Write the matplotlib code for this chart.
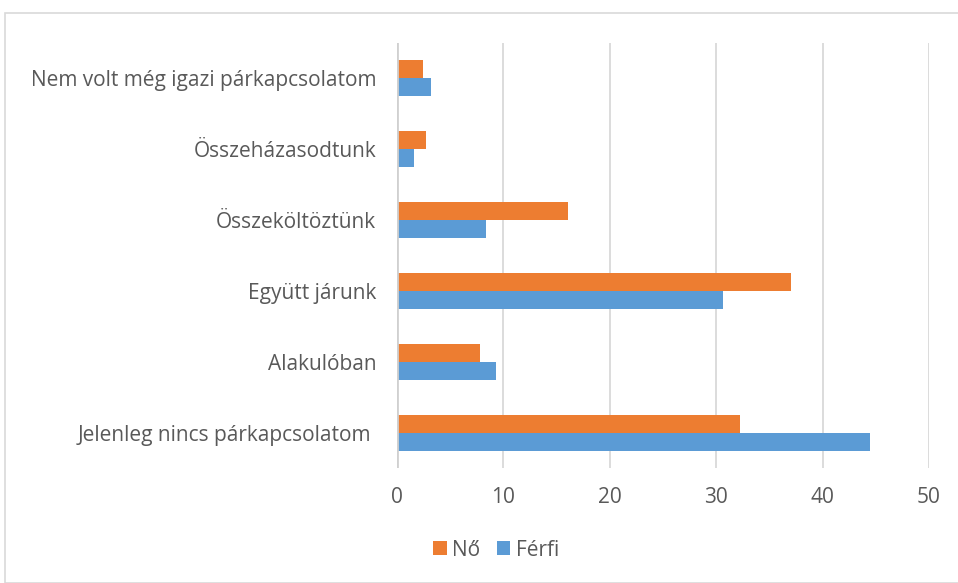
import matplotlib
matplotlib.use("Agg")
import matplotlib.pyplot as plt
import numpy as np
from matplotlib.patches import Rectangle

categories = ["Jelenleg nincs párkapcsolatom ", "Alakulóban", "Együtt járunk",
              "Összeköltöztünk", "Összeházasodtunk", "Nem volt még igazi párkapcsolatom"]
no_values = [32.2, 7.8, 37.0, 16.1, 2.7, 2.45]
ferfi_values = [44.5, 9.3, 30.6, 8.4, 1.6, 3.2]
xticks = [0, 10, 20, 30, 40, 50]

plt.rcParams['font.family'] = ['Open Sans', 'DejaVu Sans']
FS = 15

fig = plt.figure(figsize=(9.58, 5.83), dpi=100)
fig.patches.append(Rectangle((5/958, 0), 1, 1 - 13/583, transform=fig.transFigure,
                             fill=False, edgecolor='#D9D9D9', linewidth=1.2, figure=fig))
ax = fig.add_axes([397/958, 1 - 468/583, (929 - 397)/958, (468 - 43)/583])

y = np.arange(len(categories))
h = 0.254
ax.barh(y + h/2, no_values, height=h, color='#ED7D31', label='Nő', zorder=3)
ax.barh(y - h/2, ferfi_values, height=h, color='#5B9BD5', label='Férfi', zorder=3)

ax.set_xlim(0, 50)
ax.set_ylim(-0.5, len(categories) - 0.5)
ax.set_xticks(xticks)
ax.set_xticklabels([str(t) for t in xticks])
ax.set_yticks(y)
ax.set_yticklabels(categories)
ax.tick_params(axis='x', length=0, pad=14, labelsize=FS, labelcolor='#595959')
ax.tick_params(axis='y', length=0, pad=15, labelsize=FS, labelcolor='#595959')
for s in ax.spines.values():
    s.set_visible(False)
for t in xticks:
    ax.axvline(t, color='#D9D9D9', linewidth=1.3, zorder=1)
ax.axvline(0, color='#D0D0D0', linewidth=2.0, zorder=4)

handles, labels = ax.get_legend_handles_labels()
fig.legend(handles, labels, loc='center', bbox_to_anchor=(496/958, 1 - 550/583), ncol=2,
           frameon=False, fontsize=FS, handlelength=0.65, handleheight=0.65,
           handletextpad=0.25, columnspacing=0.8, labelcolor='#595959')

fig.savefig("out.png", dpi=100)
